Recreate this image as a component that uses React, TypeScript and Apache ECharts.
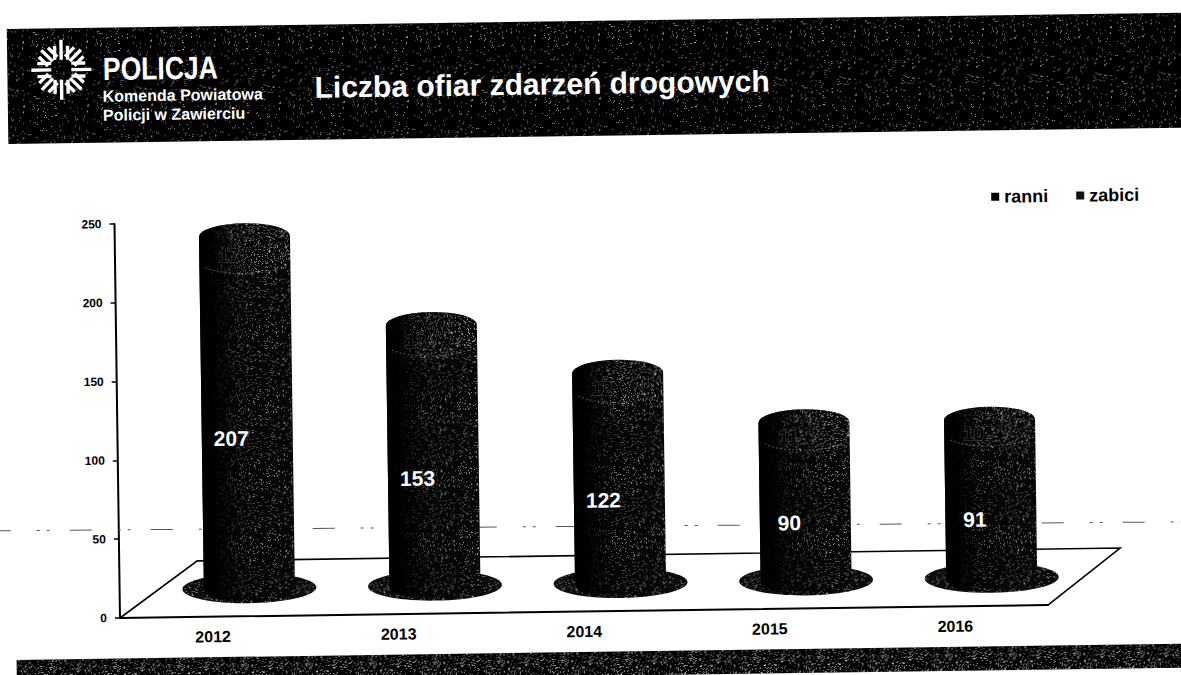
import React, { useEffect, useRef } from "react";
import * as echarts from "echarts";

const years = ["2012", "2013", "2014", "2015", "2016"];
const ranni = [207, 153, 122, 90, 91];
const zabici = [17, 13, 12, 11, 10];
const yTicks = { min: 0, max: 250, interval: 50 };

const SANS = "'Liberation Sans', Arial, sans-serif";

// Scanner halftone: a tile of small light dots, deterministic.
function speckle(size: number, count: number, alpha: number) {
  const c = document.createElement("canvas");
  c.width = size;
  c.height = size;
  const ctx = c.getContext("2d")!;
  let s = 12345;
  const next = () => {
    s = (s * 1103515245 + 12345) & 0x7fffffff;
    return s / 0x7fffffff;
  };
  for (let i = 0; i < count; i++) {
    const x = Math.floor(next() * size);
    const y = Math.floor(next() * size);
    const a = alpha * (0.5 + 0.5 * next());
    ctx.fillStyle = `rgba(255,255,255,${a})`;
    ctx.fillRect(x, y, 1, 1);
  }
  return { image: c.toDataURL(), repeat: "repeat", imageWidth: size, imageHeight: size };
}

function logoLines() {
  const cx = 69;
  const cy = 69;
  const out: any[] = [];
  for (let k = 0; k < 8; k++) {
    const ang = (k * Math.PI) / 4;
    const ortho = k % 2 === 0;
    const ux = Math.cos(ang);
    const uy = Math.sin(ang);
    const vx = -uy;
    const vy = ux;
    for (const off of [-6.5, 0, 6.5]) {
      const r0 = ortho ? 10 : 12;
      const r1 = ortho ? (off === 0 ? 30 : 24) : off === 0 ? 28 : 25;
      out.push({
        type: "line",
        shape: {
          x1: cx + ux * r0 + vx * off,
          y1: cy + uy * r0 + vy * off,
          x2: cx + ux * r1 + vx * off,
          y2: cy + uy * r1 + vy * off,
        },
        style: { stroke: "#fff", lineWidth: 3.4 },
        z: 3,
      });
    }
  }
  return out;
}

export default function App() {
  const ref = useRef<HTMLDivElement>(null);

  useEffect(() => {
    const chart = echarts.init(ref.current!, undefined, { renderer: "svg" });

    const sparse = speckle(64, 170, 0.75);
    const medium = speckle(64, 360, 0.7);
    const dense = speckle(64, 720, 0.75);

    const OFF_X = 37;
    const OFF_Y = -27;
    const RX = 45.5;
    const RY = 13;

    const bodyPath = (l: number, r: number, t: number, b: number, cap: boolean) =>
      `M${l} ${t} ` +
      (cap ? `A${RX} ${RY} 0 0 1 ${r} ${t} ` : `L${r} ${t} `) +
      `L${r} ${b} A${RX} ${RY} 0 0 1 ${l} ${b} Z`;

    const makeRender =
      (isTop: boolean, pattern: any, textFill: string, fontSize: number, labelDy: number) =>
      (_p: any, api: any) => {
        const i = api.value(0);
        const lo = api.coord([i, api.value(1)]);
        const hi = api.coord([i, api.value(2)]);
        const cx = lo[0] + OFF_X;
        const l = cx - RX;
        const r = cx + RX;
        const t = hi[1] + OFF_Y;
        const b = lo[1] + OFF_Y;
        const d = bodyPath(l, r, t, b, isTop);
        const children: any[] = [];
        if (!isTop) {
          const shadow = { cx, cy: b - 1, rx: 67, ry: 15 };
          children.push({ type: "ellipse", shape: shadow, style: { fill: "#0c0c0c" } });
          children.push({ type: "ellipse", shape: shadow, style: { fill: pattern } });
        }
        children.push({ type: "path", shape: { pathData: d }, style: { fill: "#070707" } });
        children.push({ type: "path", shape: { pathData: d }, style: { fill: pattern } });
        children.push({
          type: "path",
          shape: { pathData: d },
          style: {
            fill: new echarts.graphic.LinearGradient(0, 0, 1, 0, [
              { offset: 0, color: "rgba(0,0,0,1)" },
              { offset: 0.14, color: "rgba(0,0,0,0.95)" },
              { offset: 0.4, color: "rgba(0,0,0,0.25)" },
              { offset: 1, color: "rgba(0,0,0,0)" },
            ]),
          },
        });
        if (isTop) {
          children.push({
            type: "path",
            shape: { pathData: `M${l + 6} ${b + 4} A${RX} ${RY} 0 0 0 ${r - 6} ${b + 4}` },
            style: { fill: "none", stroke: "rgba(200,200,200,0.4)", lineWidth: 1, lineDash: [2, 2] },
          });
        }
        children.push({
          type: "text",
          style: {
            text: String(api.value(3)),
            x: cx - 16,
            y: (t + b) / 2 + labelDy,
            fill: textFill,
            font: `bold ${fontSize}px ${SANS}`,
            align: "center",
            verticalAlign: "middle",
            ...(isTop ? { stroke: "rgba(130,130,130,0.55)", lineWidth: 1 } : {}),
          },
          z2: 10,
        });
        return { type: "group", children };
      };

    const ranniData = ranni.map((v, i) => [i, 0, v, v]);
    const zabiciData = zabici.map((v, i) => [i, ranni[i], ranni[i] + v, v]);

    chart.setOption({
      animation: false,
      backgroundColor: "#fff",
      grid: { left: 120, top: 224, width: 928, height: 394, containLabel: false },
      legend: {
        left: 992,
        top: 195,
        itemWidth: 8,
        itemHeight: 8,
        itemGap: 28,
        icon: "rect",
        data: ["ranni", "zabici"],
        textStyle: { color: "#000", fontFamily: SANS, fontWeight: "bold", fontSize: 18 },
      },
      xAxis: {
        type: "category",
        data: years,
        axisLine: { lineStyle: { color: "#000", width: 2 } },
        axisTick: { show: false },
        axisLabel: {
          color: "#000",
          fontFamily: SANS,
          fontWeight: "bold",
          fontSize: 16,
          margin: 12,
        },
      },
      yAxis: {
        type: "value",
        min: yTicks.min,
        max: yTicks.max,
        interval: yTicks.interval,
        axisLine: { show: true, lineStyle: { color: "#000", width: 2 } },
        axisTick: { show: true, length: 5, lineStyle: { color: "#000", width: 1.5 } },
        splitLine: { show: false },
        axisLabel: {
          color: "#000",
          fontFamily: SANS,
          fontWeight: "bold",
          fontSize: 12,
          margin: 13,
        },
      },
      graphic: [
        // header band
        { type: "rect", shape: { x: 15, y: 27.5, width: 1290, height: 115 }, style: { fill: "#000" }, z: 1 },
        { type: "rect", shape: { x: 15, y: 27.5, width: 1290, height: 115 }, style: { fill: sparse }, z: 2 },
        ...logoLines(),
        {
          type: "text",
          x: 110.5,
          y: 68.5,
          scaleX: 0.83,
          style: { text: "POLICJA", x: 0, y: 0, fill: "#fff", font: `bold 32px ${SANS}`, verticalAlign: "middle" },
          z: 3,
        },
        {
          type: "text",
          style: { text: "Komenda Powiatowa", x: 110, y: 96, fill: "#fff", font: `bold 16px ${SANS}`, verticalAlign: "middle" },
          z: 3,
        },
        {
          type: "text",
          style: { text: "Policji w Zawierciu", x: 110, y: 115, fill: "#fff", font: `bold 16px ${SANS}`, verticalAlign: "middle" },
          z: 3,
        },
        {
          type: "text",
          style: { text: "Liczba ofiar zdarzeń drogowych", x: 322, y: 90, fill: "#fff", font: `bold 30px ${SANS}`, verticalAlign: "middle" },
          z: 3,
        },
        // footer band
        { type: "rect", shape: { x: 16, y: 658.5, width: 1290, height: 24 }, style: { fill: "#000" }, z: 1 },
        { type: "rect", shape: { x: 16, y: 658.5, width: 1290, height: 24 }, style: { fill: dense }, z: 2 },
        // scanner line across the page
        {
          type: "line",
          shape: { x1: -10, y1: 529, x2: 1230, y2: 537 },
          style: { stroke: "#555", lineWidth: 1, lineDash: [22, 26, 3, 7, 3, 20] },
          z: 1,
        },
        // floor of the 3D plot
        {
          type: "polyline",
          shape: { points: [[120, 618], [198, 562], [1121, 562], [1048, 618]] },
          style: { stroke: "#000", lineWidth: 1.6, fill: "none" },
          z: 1,
        },
      ],
      series: [
        {
          name: "ranni",
          type: "custom",
          data: ranniData,
          itemStyle: { color: "#000" },
          renderItem: makeRender(false, medium, "#fff", 21, 12),
          encode: { x: 0, y: [1, 2] },
          z: 5,
        },
        {
          name: "zabici",
          type: "custom",
          data: zabiciData,
          itemStyle: { color: "#111" },
          renderItem: makeRender(true, dense, "#000", 19, 6),
          encode: { x: 0, y: [1, 2] },
          z: 6,
        },
      ],
    });
    return () => chart.dispose();
  }, []);

  return (
    <div style={{ position: "fixed", left: 0, top: 0, width: 1181, height: 675, overflow: "hidden", background: "#fff" }}>
      <div
        ref={ref}
        style={{
          position: "absolute",
          left: 0,
          top: 0,
          width: 1310,
          height: 720,
          transformOrigin: "120px 618px",
          transform: "rotate(-0.8deg)",
        }}
      />
    </div>
  );
}
